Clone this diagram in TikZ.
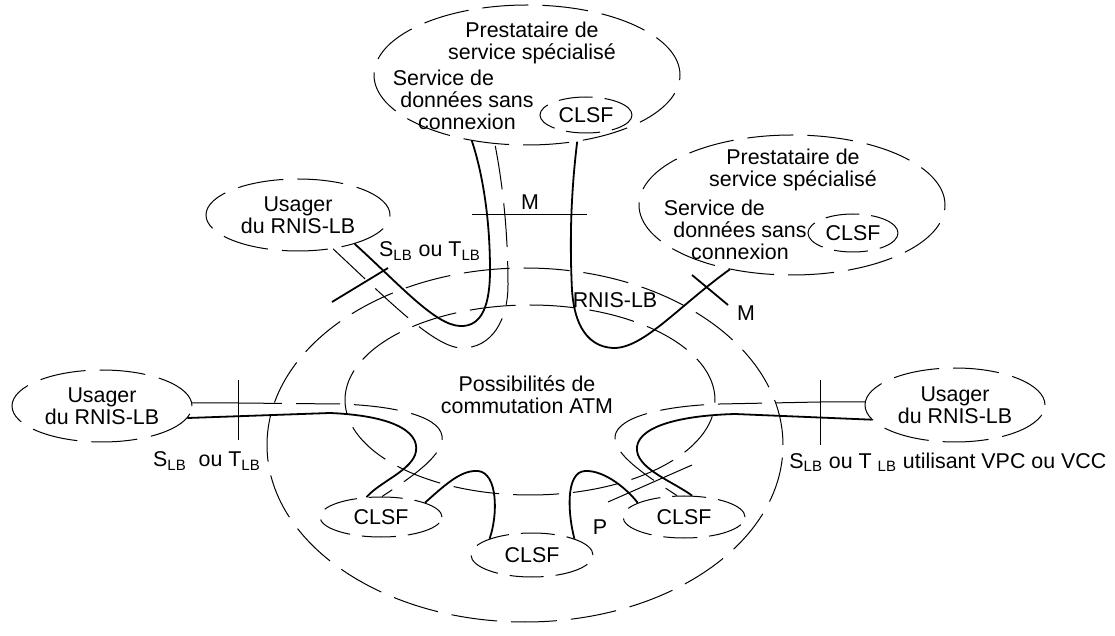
\documentclass[tikz,border=0pt]{standalone}
\usepackage{fontspec}
\setmainfont{Liberation Sans}
\usetikzlibrary{shapes.geometric}
\begin{document}
\begin{tikzpicture}[x=0.5pt,y=-0.5pt,font={\fontsize{10.7}{11}\selectfont},
    zone/.style={ellipse,draw,inner sep=0pt,line width=0.5pt,dash pattern=on 23pt off 7pt},
    cell/.style={zone,dash pattern=on 17pt off 6pt},
    conn/.style={line width=0.9pt},
    fine/.style={line width=0.5pt},
    tube/.style={fine,dash pattern=on 22pt off 7pt},
    lbl/.style={inner sep=0pt,align=center}]
   \useasboundingbox (0,0) rectangle (1115,636);
   % reseau
   \node[zone,minimum width=258pt,minimum height=177pt] (rnis) at (525,445) {};
   \node[zone,minimum width=185pt,minimum height=95pt] (atm) at (530,400) {};
   \node[lbl] (atmtxt) at (527,395) {Possibilités de\\commutation ATM};
   \node[lbl] (rnistxt) at (615,300) {RNIS-LB};
   \foreach \n/\x/\y/\h in
     {clsfL/381/517/20pt,
      clsfC/532/555/22pt,
      clsfR/684/517/21pt
     }
     \node[cell,minimum width=61pt,minimum height=\h] (\n) at (\x,\y) {CLSF};
   % prestataires
   \node[zone,minimum width=153pt,minimum height=70pt] (provA) at (527,75) {};
   \node[zone,minimum width=153pt,minimum height=70pt] (provB) at (792,205) {};
   \node[cell,minimum width=46pt,minimum height=18pt] (clsfA) at (586,115) {CLSF};
   \node[cell,minimum width=45pt,minimum height=19pt] (clsfB) at (853,233) {CLSF};
   \node[lbl] (provAtxt) at (532,43) {Prestataire de\\service spécialisé};
   \node[lbl] (servA) at (467,100) {Service de\hspace*{2.2em}\\données sans\\connexion};
   \node[lbl] (provBtxt) at (793,170) {Prestataire de\\service spécialisé};
   \node[lbl] (servB) at (740,230) {Service de\hspace*{2.4em}\\données sans\\connexion};
   % usagers
   \node[zone,minimum width=92pt,minimum height=36pt,align=center] (usrA) at (298,215) {Usager\\du RNIS-LB};
   \node[zone,minimum width=90pt,minimum height=36pt,align=center] (usrL) at (102,406) {Usager\\du RNIS-LB};
   \node[zone,minimum width=90pt,minimum height=37pt,align=center] (usrR) at (955,405) {Usager\\du RNIS-LB};
   % connexions
   \draw[conn] (usrA.-27) .. controls (400,285) and (435,325) .. (460,326)
      .. controls (482,327) and (490,305) .. (490,270)
      .. controls (490,210) and (480,165) .. (provA.-130);
   \draw[tube] (usrA.-44) .. controls (390,302) and (435,348) .. (462,348)
      .. controls (492,348) and (508,320) .. (508,285)
      .. controls (508,220) and (500,170) .. (provA.-115);
   \draw[conn] (provA.-53) .. controls (570,200) and (570,250) .. (572,290)
      .. controls (575,335) and (595,348) .. (615,348)
      .. controls (645,347) and (680,305) .. (provB.-134);
   \coordinate (sL) at (238,403);
   \coordinate (sR) at (820,402);
   \draw[fine] (usrL.2) -- (sL);
   \draw[tube] (sL) -- (340,404) .. controls (400,406) and (445,418) .. (442,440)
      .. controls (440,458) and (410,478) .. (clsfL.87);
   \draw[conn] (usrL.-8) -- (330,413) .. controls (400,416) and (422,435) .. (415,455)
      .. controls (408,472) and (380,482) .. (clsfL.126);
   \draw[fine] (usrR.178) -- (sR);
   \draw[tube] (sR) -- (720,404) .. controls (660,406) and (612,418) .. (615,440)
      .. controls (618,458) and (650,478) .. (clsfR.108);
   \draw[conn] (usrR.-170) -- (735,414) .. controls (665,416) and (630,432) .. (638,455)
      .. controls (645,472) and (675,483) .. (clsfR.69);
   \draw[conn] (clsfL.18) .. controls (448,482) and (462,470) .. (478,471)
      .. controls (498,473) and (498,515) .. (clsfC.159);
   \draw[conn] (clsfC.21) .. controls (568,515) and (565,472) .. (585,471)
      .. controls (605,470) and (628,490) .. (clsfR.163);
   % points de reference
   \coordinate (tA1) at (332,302); \coordinate (tA2) at (388,268);
   \coordinate (tL1) at (238,380); \coordinate (tL2) at (238,440);
   \coordinate (tR1) at (820,380); \coordinate (tR2) at (820,445);
   \coordinate (mA1) at (472,215); \coordinate (mA2) at (587,215);
   \coordinate (mB1) at (692,275); \coordinate (mB2) at (728,305);
   \coordinate (p1) at (608,502);  \coordinate (p2) at (692,465);
   \draw[conn] (tA1) -- (tA2);
   \draw[fine] (tL1) -- (tL2);
   \draw[fine] (tR1) -- (tR2);
   \draw[fine] (mA1) -- (mA2);
   \draw[conn] (mB1) -- (mB2);
   \draw[fine] (p1) -- (p2);
   \node[lbl] (sltA) at (430,251) {S\textsubscript{LB} ou T\textsubscript{LB}};
   \node[lbl] (sltL) at (207,461) {S\textsubscript{LB}\ \ ou T\textsubscript{LB}};
   \node[lbl,anchor=west] (sltR) at (789,462) {S\textsubscript{LB} ou T \textsubscript{LB} utilisant VPC ou VCC};
   \node[lbl] (mAtxt) at (530,202) {M};
   \node[lbl] (mBtxt) at (746,313) {M};
   \node[lbl] (ptxt) at (600,527) {P};
\end{tikzpicture}
\end{document}
